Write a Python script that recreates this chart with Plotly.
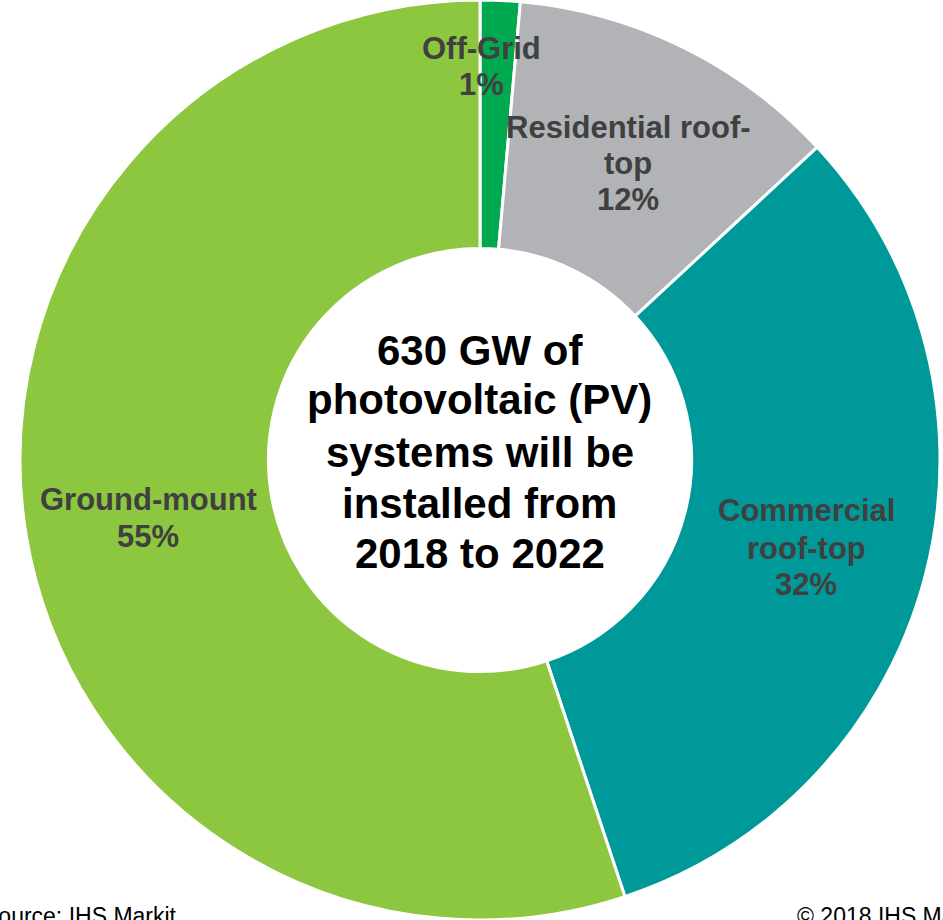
import plotly.graph_objects as go

# Data
categories = ["Off-Grid", "Residential roof-top", "Commercial roof-top", "Ground-mount"]
shares = [1.4, 11.7, 31.8, 55.1]
share_labels = ["1%", "12%", "32%", "55%"]
colors = ["#00A94F", "#B1B3B6", "#009999", "#8DC63F"]
center_text = ["630 GW of", "photovoltaic (PV)", "systems will be", "installed from", "2018 to 2022"]

W, H = 943, 920
FONT = "Arial, Liberation Sans, sans-serif"
LABEL_COLOR = "#404040"

fig = go.Figure()
fig.add_trace(go.Pie(
    labels=categories,
    values=shares,
    sort=False,
    direction="clockwise",
    rotation=0,
    hole=0.46,
    marker=dict(colors=colors, line=dict(color="white", width=3)),
    textinfo="none",
    hoverinfo="label+percent",
    showlegend=False,
    domain=dict(x=[20 / W, 940 / W], y=[0, 1]),
))

def px(x):
    return x / W

def py(y):
    return 1 - y / H

annotations = []

def add_lines(lines, xc, ys, size, color):
    for txt, yy in zip(lines, ys):
        annotations.append(dict(
            x=px(xc), y=py(yy), xref="paper", yref="paper",
            text=f"<b>{txt}</b>", showarrow=False,
            xanchor="center", yanchor="middle",
            font=dict(family=FONT, size=size, color=color),
        ))

# Slice labels
add_lines(["Off-Grid", share_labels[0]], 481, [48, 84], 31, LABEL_COLOR)
add_lines(["Residential roof-", "top", share_labels[1]], 628, [127, 163, 199], 31, LABEL_COLOR)
add_lines(["Commercial", "roof-top", share_labels[2]], 806, [511, 548, 584], 31, LABEL_COLOR)
add_lines(["Ground-mount", share_labels[3]], 148, [499, 536], 31, LABEL_COLOR)

# Center text
add_lines(center_text, 480, [350, 400, 452, 503, 553], 42, "#000000")

# Footer (partly cut by the edges, as in the reference)
annotations.append(dict(
    x=px(-19), y=py(916), xref="paper", yref="paper",
    text="Source: IHS Markit", showarrow=False,
    xanchor="left", yanchor="middle",
    font=dict(family=FONT, size=23, color="#000000"),
))
annotations.append(dict(
    x=px(795), y=py(916), xref="paper", yref="paper",
    text="© 2018 IHS Markit", showarrow=False,
    xanchor="left", yanchor="middle",
    font=dict(family=FONT, size=23, color="#000000"),
))

fig.update_layout(
    width=W, height=H,
    margin=dict(l=0, r=0, t=0, b=0),
    paper_bgcolor="white",
    plot_bgcolor="white",
    annotations=annotations,
)

fig.write_html(
    "out.html",
    config={"displayModeBar": False},
    post_script="document.body.style.margin='0px';",
)
